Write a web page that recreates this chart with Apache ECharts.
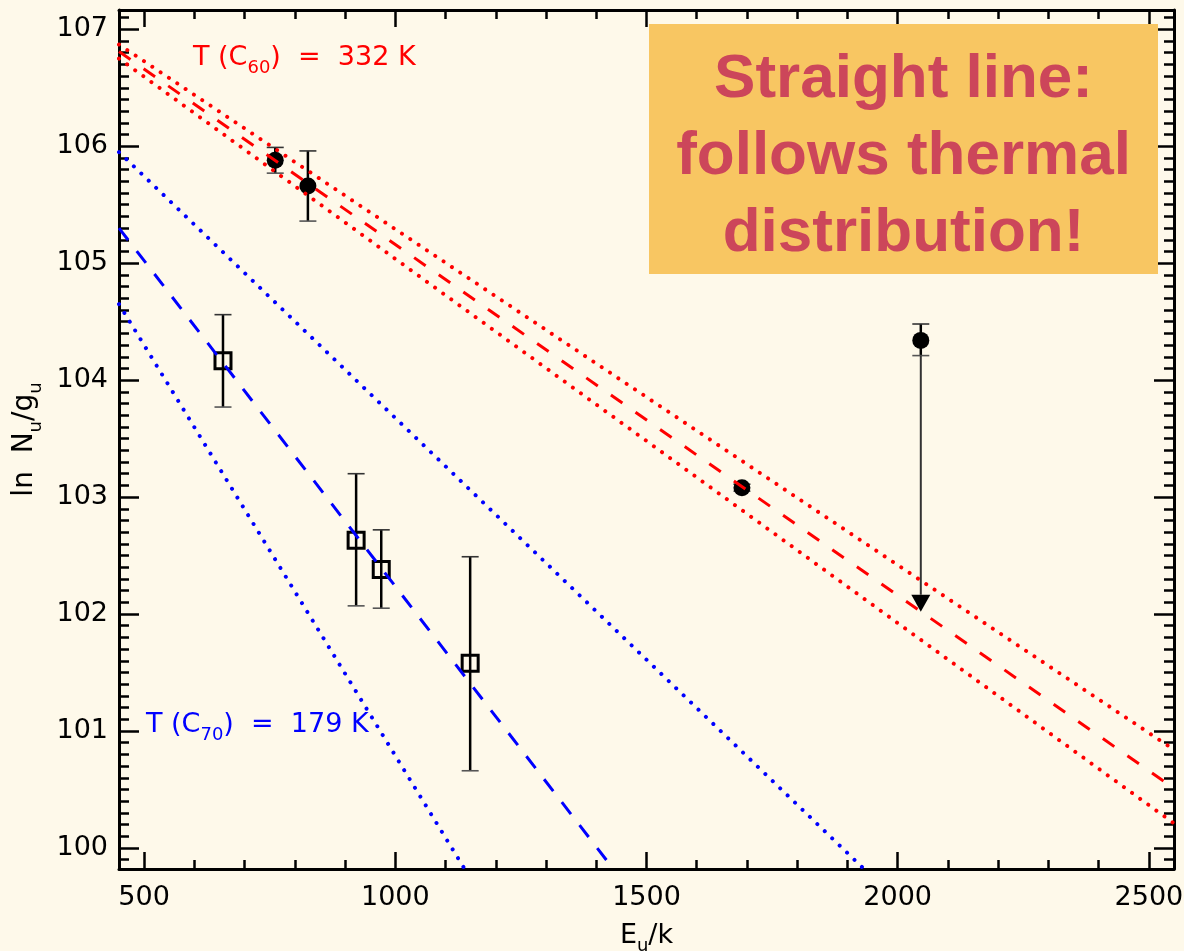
<!DOCTYPE html>
<html>
<head>
<meta charset="utf-8">
<title>C60 / C70 rotation diagram</title>
<script src="https://cdn.jsdelivr.net/npm/echarts@6/dist/echarts.min.js"></script>
<style>
  html, body { margin: 0; padding: 0; background: #fef9ea; }
  #chart { width: 1184px; height: 951px; }
</style>
</head>
<body>
<div id="chart"></div>
<script>
// Axis ranges and tick values
const xRange = [450, 2550];
const yRange = [99.82, 107.165];
const xMajorTicks = [500, 1000, 1500, 2000, 2500];
const yMajorTicks = [100, 101, 102, 103, 104, 105, 106, 107];

// C60 levels: upper-level energy E_u/k (K), ln(N_u/g_u) and its error bounds
const c60Energy = [761, 826, 1690, 2046];
const c60Value = [105.88, 105.66, 103.08, 104.34];
const c60Low = [105.77, 105.36, 103.05, 104.21];
const c60High = [105.99, 105.96, 103.11, 104.48];
// upper limit: the last C60 level may lie anywhere down to this value
const c60LimitEnergy = [2046];
const c60LimitFrom = [104.21];
const c60LimitTo = [102.02];

// C70 levels
const c70Energy = [657, 922, 972, 1149];
const c70Value = [104.165, 102.63, 102.38, 101.58];
const c70Low = [103.77, 102.07, 102.05, 100.66];
const c70High = [104.56, 103.20, 102.72, 102.49];

// Boltzmann fits (straight lines) and their uncertainty envelopes: [E, ln N/g]
const c60Fit = [[450, 106.81], [2550, 100.51]];
const c60FitUpper = [[450, 106.87], [2550, 100.84]];
const c60FitLower = [[450, 106.75], [2550, 100.21]];
const c70Fit = [[450, 105.30], [1434, 99.82]];
const c70FitUpper = [[450, 105.95], [1933, 99.82]];
const c70FitLower = [[450, 104.65], [1138, 99.82]];

const FONT = 'DejaVu Sans';
const RED = '#ff0000';
const BLUE = '#0000ff';

// minor ticks between the labelled ones
function minorTicks(major, step, lo, hi) {
  const out = [];
  const start = Math.ceil(lo / step);
  const end = Math.floor(hi / step);
  for (let i = start; i <= end; i++) {
    const v = Math.round(i * step * 1000) / 1000;
    if (major.indexOf(v) < 0 && v > lo && v < hi) out.push(v);
  }
  return out;
}
const xMinorTicks = minorTicks(xMajorTicks, 100, xRange[0], xRange[1]);
const yMinorTicks = minorTicks(yMajorTicks, 0.1, yRange[0], yRange[1]);

// subscript token: a small box height pushes the glyphs below the baseline
function subStyle(color, colorKey) {
  const s = { fontSize: 18, fontFamily: FONT, height: 6, verticalAlign: 'bottom' };
  s[colorKey] = color;
  return s;
}

function xAxis(position, ticks, len, major, lineShown) {
  const ax = {
    type: 'value', min: xRange[0], max: xRange[1], position: position,
    axisLine: { show: lineShown, onZero: false, lineStyle: { color: '#000', width: 3 } },
    axisTick: { show: true, inside: true, length: len, customValues: ticks,
                lineStyle: { color: '#000', width: 2.5 } },
    axisLabel: { show: major && position === 'bottom', customValues: ticks, margin: 15,
                 formatter: v => String(v),
                 fontFamily: FONT, fontSize: 27, color: '#000' },
    splitLine: { show: false }
  };
  if (major && position === 'bottom') {
    ax.name = 'E{s|u}/k';
    ax.nameLocation = 'middle';
    ax.nameGap = 53;
    ax.nameTextStyle = { fontFamily: FONT, fontSize: 27, color: '#000',
                         rich: { s: subStyle('#000', 'color') } };
  }
  return ax;
}

function yAxis(position, ticks, len, major, lineShown) {
  const ax = {
    type: 'value', min: yRange[0], max: yRange[1], position: position,
    axisLine: { show: lineShown, onZero: false, lineStyle: { color: '#000', width: 3 } },
    axisTick: { show: true, inside: true, length: len, customValues: ticks,
                lineStyle: { color: '#000', width: 2.5 } },
    axisLabel: { show: major && position === 'left', customValues: ticks, margin: 11,
                 formatter: v => String(v),
                 fontFamily: FONT, fontSize: 27, color: '#000' },
    splitLine: { show: false }
  };
  if (major && position === 'left') {
    ax.name = 'ln  N{s|u}/g{s|u}';
    ax.nameLocation = 'middle';
    ax.nameGap = 80;
    ax.nameRotate = 90;
    ax.nameTextStyle = { fontFamily: FONT, fontSize: 28, color: '#000',
                         rich: { s: subStyle('#000', 'color') } };
  }
  return ax;
}

function zip3(a, b, c) { return a.map((v, i) => [v, b[i], c[i]]); }

function errorBarItem(params, api) {
  const x = api.value(0);
  const lo = api.coord([x, api.value(1)]);
  const hi = api.coord([x, api.value(2)]);
  const cap = 8.5;
  return {
    type: 'group',
    children: [
      { type: 'line', shape: { x1: lo[0], y1: lo[1], x2: hi[0], y2: hi[1] },
        style: { stroke: '#000', lineWidth: 2.5 } },
      { type: 'line', shape: { x1: hi[0] - cap, y1: hi[1], x2: hi[0] + cap, y2: hi[1] },
        style: { stroke: '#333', lineWidth: 1.6 } },
      { type: 'line', shape: { x1: lo[0] - cap, y1: lo[1], x2: lo[0] + cap, y2: lo[1] },
        style: { stroke: '#555', lineWidth: 1.6 } }
    ]
  };
}

function limitItem(params, api) {
  const x = api.value(0);
  const from = api.coord([x, api.value(1)]);
  const tip = api.coord([x, api.value(2)]);
  const w = 9.5, h = 17;
  return {
    type: 'group',
    children: [
      { type: 'line', shape: { x1: from[0], y1: from[1], x2: tip[0], y2: tip[1] - h },
        style: { stroke: '#333', lineWidth: 2 } },
      { type: 'polygon', shape: { points: [[tip[0] - w, tip[1] - h], [tip[0] + w, tip[1] - h], [tip[0], tip[1]]] },
        style: { fill: '#000' } }
    ]
  };
}

function fitLine(data, color, dash, width, cap) {
  return {
    type: 'line', data: data, symbol: 'none', silent: true, clip: true, z: 5,
    lineStyle: { color: color, width: width, type: dash, cap: cap || 'butt' }
  };
}

function tempLabel(x, y, sub, rest, color) {
  return {
    type: 'text', x: x, y: y, z: 50,
    style: {
      text: '{m|T (C}{s|' + sub + '}{m|)  =  ' + rest + '}',
      align: 'left', verticalAlign: 'middle',
      rich: {
        m: { fontSize: 27, fontFamily: FONT, fill: color },
        s: subStyle(color, 'fill')
      }
    }
  };
}

const chart = echarts.init(document.getElementById('chart'), null, { renderer: 'canvas' });

chart.setOption({
  backgroundColor: '#fef9ea',
  animation: false,
  grid: { left: 119, right: 10, top: 10, bottom: 82, containLabel: false, outerBoundsMode: 'none' },
  xAxis: [
    xAxis('bottom', xMajorTicks, 17, true, true),
    xAxis('bottom', xMinorTicks, 9, false, false),
    xAxis('top', xMajorTicks, 17, true, true),
    xAxis('top', xMinorTicks, 9, false, false)
  ],
  yAxis: [
    yAxis('left', yMajorTicks, 20, true, true),
    yAxis('left', yMinorTicks, 10, false, false),
    yAxis('right', yMajorTicks, 20, true, true),
    yAxis('right', yMinorTicks, 10, false, false)
  ],
  series: [
    { type: 'custom', name: 'C60 errors', renderItem: errorBarItem, z: 2,
      data: zip3(c60Energy, c60Low, c60High) },
    { type: 'custom', name: 'C70 errors', renderItem: errorBarItem, z: 2,
      data: zip3(c70Energy, c70Low, c70High) },
    { type: 'custom', name: 'C60 limit', renderItem: limitItem, z: 2,
      data: zip3(c60LimitEnergy, c60LimitFrom, c60LimitTo) },
    { type: 'scatter', name: 'C60', symbol: 'circle', symbolSize: 17, z: 3,
      itemStyle: { color: '#000', opacity: 1 },
      data: c60Energy.map((e, i) => [e, c60Value[i]]) },
    { type: 'scatter', name: 'C70', symbol: 'rect', symbolSize: 16, z: 3,
      itemStyle: { color: 'rgba(0,0,0,0)', borderColor: '#000', borderWidth: 3, opacity: 1 },
      data: c70Energy.map((e, i) => [e, c70Value[i]]) },
    fitLine(c60FitUpper, RED, [0.01, 10], 4, 'round'),
    fitLine(c60FitLower, RED, [0.01, 10], 4, 'round'),
    fitLine(c60Fit, RED, [14, 16], 3),
    fitLine(c70FitUpper, BLUE, [0.01, 10.3], 4, 'round'),
    fitLine(c70FitLower, BLUE, [0.01, 10.3], 4, 'round'),
    fitLine(c70Fit, BLUE, [15, 14], 3)
  ],
  graphic: [
    tempLabel(193, 58, '60', '332 K', RED),
    tempLabel(146, 725, '70', '179 K', BLUE),
    { type: 'rect', z: 100, shape: { x: 649, y: 24, width: 509, height: 250 },
      style: { fill: '#f8c662' } },
    { type: 'text', z: 101, x: 903.5, y: 157,
      style: { text: 'Straight line:\nfollows thermal\ndistribution!',
        font: 'bold 62px "Liberation Sans", Arial, sans-serif', fill: '#cc465a',
        align: 'center', verticalAlign: 'middle', lineHeight: 77 } }
  ]
});
</script>
</body>
</html>
